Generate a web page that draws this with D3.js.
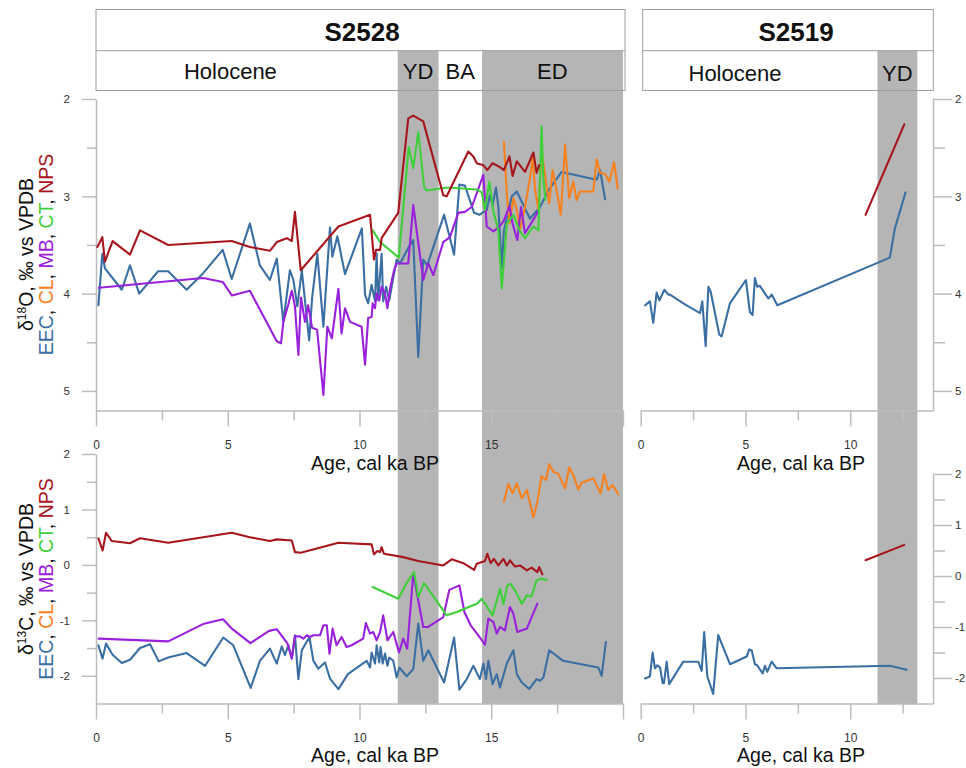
<!DOCTYPE html>
<html>
<head>
<meta charset="utf-8">
<script src="https://cdn.jsdelivr.net/npm/d3@7"></script>
<style>
  html, body { margin: 0; padding: 0; background: #fff; overflow: hidden; }
  text { font-family: 'Liberation Sans', Arial, Helvetica, sans-serif; }
</style>
</head>
<body>
<svg id="chart" width="966" height="768"></svg>
<script>
// ---------- cores and periods ----------
const cores = ["S2528", "S2519"];
const periodsS2528 = [
  { name: "YD", from: 11.45, to: 13.0 },
  { name: "ED", from: 14.65, to: 20.0 }
];
const periodsS2519 = [
  { name: "YD", from: 11.3, to: 13.2 }
];
// header labels: [text, age of label centre]
const headerS2528 = [["Holocene", 5.1], ["YD", 12.22], ["BA", 13.82], ["ED", 17.32]];
const headerS2519 = [["Holocene", 4.5], ["YD", 12.25]];

// ---------- axis ticks ----------
const ageTicksS2528 = [0, 2.5, 5, 7.5, 10, 12.5, 15, 17.5, 20];
const ageLabelsS2528 = [0, 5, 10, 15];
const ageTicksS2519 = [0, 2.5, 5, 7.5, 10, 12.5];
const ageLabelsS2519 = [0, 5, 10];
const d18OTicks = [2, 2.5, 3, 3.5, 4, 4.5, 5];
const d18OLabels = [2, 3, 4, 5];
const d13CTicks = [2, 1.5, 1, 0.5, 0, -0.5, -1, -1.5, -2];
const d13CLabels = [2, 1, 0, -1, -2];

// ---------- S2528, δ18O  [age ka, ‰] ----------
const s2528_O_EEC = [[0.09,4.12],[0.24,3.59],[0.34,3.74],[0.98,3.96],[1.29,3.71],[1.64,4.00],[2.36,3.77],[2.74,3.77],[3.44,3.96],[4.07,3.79],[4.81,3.55],[5.15,3.85],[5.84,3.28],[6.22,3.71],[6.60,3.86],[6.86,3.64],[7.11,4.29],[7.36,3.76],[7.49,3.86],[7.64,4.13],[7.81,3.76],[8.09,4.48],[8.20,4.05],[8.40,3.59],[8.63,4.34],[8.88,3.32],[8.97,3.62],[9.16,3.41],[9.45,3.80],[10.09,3.33],[10.21,4.01],[10.33,4.10],[10.46,3.91],[10.59,4.08],[10.65,3.59],[10.71,4.07],[10.84,3.59],[10.90,4.08],[11.01,3.93],[11.13,4.07],[11.22,3.93],[11.41,3.65],[11.54,3.69],[11.85,3.53],[12.04,3.45],[12.23,4.65],[12.42,3.65],[12.57,3.71],[13.21,3.19],[13.59,3.60],[13.79,2.88],[14.00,2.89],[14.35,3.17],[14.55,3.19],[14.83,3.14],[14.95,2.99],[15.05,3.09],[15.18,2.91],[15.27,3.11],[15.40,3.74],[15.48,3.35],[15.78,3.00],[15.97,2.95],[16.47,3.23],[16.85,3.11],[17.17,2.94],[17.67,2.75],[19.00,2.83],[19.13,2.73],[19.32,3.03]];
const s2528_O_CL = [[15.48,2.44],[15.59,2.97],[15.69,3.28],[15.84,3.02],[15.97,3.14],[16.09,3.35],[16.28,3.11],[16.47,2.81],[16.57,2.61],[16.66,2.92],[16.79,3.14],[16.91,2.52],[17.10,2.90],[17.20,3.07],[17.33,2.73],[17.48,2.94],[17.64,3.19],[17.80,2.47],[17.96,3.02],[18.11,2.85],[18.24,3.04],[18.37,2.95],[18.87,2.95],[19.00,2.62],[19.13,2.76],[19.32,2.77],[19.48,2.85],[19.66,2.65],[19.80,2.92]];
const s2528_O_MB = [[0.11,3.94],[4.07,3.84],[4.81,3.88],[5.16,4.02],[5.84,3.97],[6.86,4.49],[7.02,4.51],[7.11,4.29],[7.30,4.11],[7.43,3.97],[7.55,4.13],[7.68,4.63],[7.78,4.04],[7.93,4.29],[8.05,4.12],[8.20,4.35],[8.39,4.37],[8.63,5.04],[8.78,4.34],[8.95,4.46],[9.20,3.95],[9.32,4.41],[9.45,4.15],[9.64,4.29],[10.08,4.34],[10.21,4.73],[10.33,4.25],[10.46,4.24],[10.50,4.10],[10.59,4.15],[10.65,4.00],[10.75,4.07],[10.84,3.93],[10.97,4.00],[11.06,4.15],[11.16,3.95],[11.31,3.76],[11.41,3.69],[11.66,3.69],[11.85,3.69],[12.04,3.09],[12.42,3.86],[12.61,3.69],[12.80,3.81],[13.18,3.47],[13.43,3.42],[13.75,3.17],[14.00,3.16],[14.26,3.11],[14.70,2.78],[14.83,3.31],[15.08,3.36],[15.27,3.32],[15.46,3.26],[15.69,3.10],[15.81,3.28],[15.99,3.45],[16.13,3.11],[16.28,3.38],[16.60,3.24],[16.77,3.16]];
const s2528_O_CT = [[10.50,3.35],[10.78,3.47],[11.49,3.63],[11.87,2.49],[12.04,2.71],[12.23,2.34],[12.45,2.90],[12.55,2.94],[13.05,2.92],[13.36,2.91],[14.45,2.93],[14.64,2.96],[14.76,3.14],[14.93,2.85],[15.07,3.14],[15.27,3.35],[15.40,3.95],[15.59,3.28],[15.84,3.19],[16.09,3.36],[16.28,3.43],[16.60,3.31],[16.79,3.35],[16.91,2.28],[16.98,2.83],[17.06,3.04]];
const s2528_O_NPS = [[0.05,3.52],[0.24,3.42],[0.34,3.67],[0.63,3.46],[1.29,3.60],[1.67,3.35],[2.74,3.50],[5.15,3.46],[5.84,3.52],[6.60,3.56],[6.86,3.47],[7.24,3.43],[7.43,3.46],[7.55,3.16],[7.77,3.76],[9.20,3.31],[10.40,3.19],[10.55,3.65],[10.63,3.55],[10.78,3.55],[10.84,3.43],[11.47,3.17],[11.85,2.20],[12.04,2.17],[12.42,2.23],[13.18,2.99],[13.31,3.00],[14.13,2.54],[14.32,2.59],[14.45,2.66],[14.70,2.68],[14.85,2.73],[15.05,2.66],[15.33,2.70],[15.48,2.73],[15.69,2.59],[15.81,2.79],[15.97,2.64],[16.28,2.75],[16.60,2.55],[16.72,2.76],[16.82,2.68]];

// ---------- S2528, δ13C ----------
const s2528_C_EEC = [[0.09,-1.45],[0.25,-1.69],[0.38,-1.42],[0.63,-1.62],[0.98,-1.77],[1.29,-1.71],[1.67,-1.50],[2.05,-1.43],[2.38,-1.74],[2.74,-1.67],[3.44,-1.59],[4.14,-1.82],[4.83,-1.31],[5.21,-1.45],[5.87,-2.22],[6.22,-1.73],[6.60,-1.51],[6.86,-1.78],[7.05,-1.47],[7.17,-1.63],[7.30,-1.45],[7.43,-1.69],[7.55,-1.27],[7.68,-2.06],[7.81,-1.54],[8.10,-1.30],[8.25,-1.73],[8.44,-1.87],[8.69,-1.76],[8.88,-2.05],[9.20,-2.24],[9.56,-1.97],[10.27,-1.73],[10.40,-1.85],[10.46,-1.58],[10.59,-1.78],[10.65,-1.45],[10.75,-1.76],[10.80,-1.48],[10.88,-1.78],[10.97,-1.60],[11.06,-1.82],[11.13,-1.67],[11.28,-1.73],[11.41,-2.03],[11.51,-1.85],[11.79,-2.01],[12.04,-1.88],[12.23,-1.06],[12.42,-1.73],[12.61,-1.54],[13.21,-2.12],[13.59,-1.31],[13.79,-2.25],[14.07,-2.06],[14.32,-1.82],[14.57,-2.06],[14.70,-1.78],[14.80,-2.06],[14.89,-1.73],[15.05,-2.15],[15.21,-1.97],[15.33,-2.21],[15.59,-1.78],[15.84,-1.54],[15.97,-1.97],[16.16,-2.12],[16.44,-2.24],[16.72,-2.06],[16.85,-2.09],[16.98,-2.03],[17.20,-1.54],[17.73,-1.73],[19.06,-1.85],[19.19,-2.00],[19.35,-1.39]];
const s2528_C_CL = [[15.48,1.14],[15.65,1.46],[15.81,1.29],[15.97,1.47],[16.16,1.20],[16.35,1.35],[16.60,0.86],[16.75,1.14],[16.91,1.60],[17.08,1.53],[17.20,1.82],[17.35,1.68],[17.54,1.65],[17.80,1.38],[17.96,1.76],[18.14,1.59],[18.30,1.36],[18.43,1.48],[18.87,1.56],[19.15,1.29],[19.28,1.64],[19.44,1.35],[19.61,1.44],[19.82,1.27]];
const s2528_C_MB = [[0.10,-1.33],[2.74,-1.38],[4.10,-1.06],[4.82,-0.98],[5.18,-1.16],[5.86,-1.41],[6.57,-1.19],[6.86,-1.16],[7.27,-1.42],[7.43,-1.69],[7.55,-1.29],[7.74,-1.29],[7.87,-1.33],[8.00,-1.27],[8.12,-1.30],[8.25,-1.27],[8.50,-1.27],[8.63,-1.09],[8.76,-1.09],[8.86,-1.60],[8.98,-1.15],[9.13,-1.45],[9.32,-1.30],[9.51,-1.48],[9.70,-1.45],[10.14,-1.33],[10.24,-1.05],[10.40,-1.24],[10.52,-1.21],[10.65,-1.36],[10.78,-1.21],[10.90,-0.91],[11.06,-1.36],[11.28,-1.21],[11.50,-1.58],[11.66,-1.33],[11.81,-1.51],[12.04,-0.16],[12.42,-1.12],[12.61,-1.12],[13.18,-0.94],[13.41,-0.45],[13.79,-0.37],[13.98,-0.85],[14.22,-1.09],[14.51,-1.27],[14.76,-1.44],[14.89,-0.97],[15.08,-1.03],[15.21,-1.24],[15.33,-1.12],[15.52,-1.18],[15.71,-0.76],[15.84,-0.88],[15.99,-1.21],[16.22,-1.17],[16.35,-1.15],[16.75,-0.70]];
const s2528_C_CT = [[10.50,-0.40],[11.47,-0.61],[11.81,-0.31],[12.07,-0.13],[12.23,-0.58],[12.45,-0.33],[13.31,-0.91],[13.69,-0.85],[14.45,-0.70],[14.64,-0.61],[15.05,-0.91],[15.23,-0.61],[15.33,-0.43],[15.46,-0.71],[15.61,-0.37],[15.74,-0.34],[15.90,-0.46],[16.16,-0.70],[16.35,-0.55],[16.53,-0.57],[16.72,-0.28],[16.88,-0.25],[17.10,-0.27]];
const s2528_C_NPS = [[0.09,0.48],[0.25,0.26],[0.38,0.58],[0.60,0.43],[1.29,0.39],[1.67,0.48],[2.74,0.40],[5.15,0.58],[5.84,0.50],[6.60,0.43],[6.86,0.46],[7.43,0.44],[7.55,0.23],[7.77,0.22],[9.20,0.40],[10.46,0.37],[10.55,0.19],[10.68,0.25],[10.78,0.23],[10.84,0.32],[10.93,0.20],[11.66,0.14],[12.23,0.07],[13.18,-0.01],[13.50,0.10],[13.94,0.03],[14.35,-0.09],[14.45,0.02],[14.76,0.07],[14.85,0.20],[14.98,0.03],[15.10,0.11],[15.27,-0.01],[15.46,0.11],[15.59,-0.01],[15.71,0.08],[15.90,-0.03],[16.09,-0.01],[16.35,-0.10],[16.53,-0.05],[16.75,-0.13],[16.82,-0.04],[16.94,-0.17]];

// ---------- S2519 ----------
const s2519_O_EEC = [[0.21,4.12],[0.44,4.08],[0.60,4.30],[0.76,3.99],[0.89,4.07],[1.13,3.96],[1.32,4.01],[1.40,4.01],[2.11,4.11],[2.83,4.20],[2.94,4.08],[3.10,4.54],[3.23,3.93],[3.34,3.98],[3.75,4.42],[3.86,4.44],[4.26,4.10],[5.02,3.86],[5.21,4.19],[5.34,4.22],[5.45,3.84],[5.56,3.93],[5.69,3.92],[5.93,4.00],[6.09,4.05],[6.25,4.01],[6.52,4.12],[11.89,3.63],[12.13,3.33],[12.64,2.96]];
const s2519_O_NPS = [[10.73,3.19],[12.58,2.26]];
const s2519_C_EEC = [[0.21,-2.01],[0.44,-1.97],[0.57,-1.50],[0.68,-1.81],[0.79,-1.75],[0.92,-1.79],[1.05,-2.10],[1.11,-2.10],[1.24,-1.68],[1.36,-2.12],[2.03,-1.68],[2.75,-1.68],[2.91,-1.86],[3.03,-1.10],[3.18,-1.97],[3.46,-2.31],[3.70,-1.16],[4.26,-1.73],[5.06,-1.58],[5.18,-1.44],[5.30,-1.46],[5.45,-1.73],[5.56,-1.75],[5.82,-1.91],[5.93,-1.76],[6.04,-1.88],[6.25,-1.68],[6.49,-1.81],[11.89,-1.76],[12.69,-1.84]];
const s2519_C_NPS = [[10.73,0.31],[12.58,0.61]];

// ---------- styling ----------
const COL = { EEC: "#3b6fa3", CL: "#f7801f", MB: "#9a21dc", CT: "#3fcf3a", NPS: "#a6161c" };
const AXIS = "#bdbdbd";
const SHADE = "#b5b5b5";
const TXT = "#111";

const svg = d3.select("#chart");

// ---------- scales ----------
const xL = d3.scaleLinear().domain([0, 20]).range([96, 623]);
const xR = d3.scaleLinear().domain([0, 13.95]).range([640.7, 933]);
const yOL = d3.scaleLinear().domain([2, 5.2]).range([99, 410.4]);
const yOR = d3.scaleLinear().domain([2, 5.2]).range([99, 410.4]);
const yCL = d3.scaleLinear().domain([2, -2.5]).range([454, 703.5]);
const yCR = d3.scaleLinear().domain([2, -2.5]).range([474, 703.5]);

// ---------- header boxes ----------
function headerBox(x0, x1) {
  svg.append("rect").attr("x", x0).attr("y", 9.5).attr("width", x1 - x0).attr("height", 81)
    .attr("fill", "#fff").attr("stroke", "none");
}
headerBox(96, 625);
headerBox(642.7, 933.3);

// ---------- period shading ----------
function shade(periods, x) {
  svg.append("g").selectAll("rect").data(periods).join("rect")
    .attr("x", d => x(d.from)).attr("width", d => x(d.to) - x(d.from))
    .attr("y", 50.7).attr("height", 704 - 50.7)
    .attr("fill", SHADE);
}
shade(periodsS2528, xL);
shade(periodsS2519, xR);

// header borders on top of shading
function headerBorders(x0, x1) {
  const g = svg.append("g").attr("fill", "none").attr("stroke", "#9e9e9e").attr("stroke-width", 1);
  g.append("rect").attr("x", x0).attr("y", 9.5).attr("width", x1 - x0).attr("height", 81);
  g.append("line").attr("x1", x0).attr("x2", x1).attr("y1", 50.7).attr("y2", 50.7);
}
headerBorders(96, 625);
headerBorders(642.7, 933.3);

// header texts
svg.append("text").text(cores[0]).attr("x", 362).attr("y", 40.5)
  .attr("text-anchor", "middle").attr("font-size", 26).attr("font-weight", "bold").attr("fill", TXT);
svg.append("text").text(cores[1]).attr("x", 796).attr("y", 40.5)
  .attr("text-anchor", "middle").attr("font-size", 26).attr("font-weight", "bold").attr("fill", TXT);
svg.append("g").selectAll("text").data(headerS2528).join("text")
  .text(d => d[0]).attr("x", d => xL(d[1])).attr("y", 78.5)
  .attr("text-anchor", "middle").attr("font-size", 22).attr("fill", TXT);
svg.append("g").selectAll("text").data(headerS2519).join("text")
  .text(d => d[0]).attr("x", d => xR(d[1])).attr("y", 81)
  .attr("text-anchor", "middle").attr("font-size", 22).attr("fill", TXT);

// ---------- axes ----------
function styleAxis(g) {
  g.select(".domain").attr("stroke", AXIS).attr("stroke-width", 1.5);
  g.selectAll(".tick line").attr("stroke", AXIS).attr("stroke-width", 1.5);
  g.selectAll(".tick text").attr("fill", "#333").attr("font-size", 12)
    .attr("font-family", "'Liberation Sans', Arial, sans-serif");
}
function yAxis(xPos, scale, orient, ticks, labels) {
  const left = orient === "left";
  const ax = (left ? d3.axisLeft(scale) : d3.axisRight(scale))
    .tickValues(ticks).tickSizeOuter(0)
    .tickFormat(d => labels.includes(d) ? String(d) : "");
  const g = svg.append("g").attr("transform", `translate(${xPos},0)`).call(ax);
  styleAxis(g);
  const s = left ? -1 : 1;
  g.selectAll(".tick line").attr("x2", d => s * (labels.includes(d) ? (left ? 14 : 19) : (left ? 9 : 12)));
  g.selectAll(".tick text").attr("x", s * (left ? 26 : 22)).attr("font-size", 11.5);
}
function xAxis(yPos, scale, ticks, labels) {
  const ax = d3.axisBottom(scale).tickValues(ticks).tickSizeOuter(0)
    .tickFormat(d => labels.includes(d) ? String(d) : "");
  const g = svg.append("g").attr("transform", `translate(0,${yPos})`).call(ax);
  styleAxis(g);
  g.selectAll(".tick line").attr("y2", d => (d % 5 === 0 ? 16 : 10));
  g.selectAll(".tick text").attr("y", 30);
}
yAxis(96, yOL, "left", d18OTicks, d18OLabels);
yAxis(96, yCL, "left", d13CTicks, d13CLabels);
yAxis(933, yOR, "right", d18OTicks, d18OLabels);
yAxis(933, yCR, "right", d13CTicks, d13CLabels);
xAxis(410.4, xL, ageTicksS2528, ageLabelsS2528);
xAxis(703.5, xL, ageTicksS2528, ageLabelsS2528);
xAxis(410.4, xR, ageTicksS2519, ageLabelsS2519);
xAxis(703.5, xR, ageTicksS2519, ageLabelsS2519);

// axis titles
[[375, 469.5], [375, 761.5], [801, 469.5], [801, 761.5]].forEach(p => {
  svg.append("text").text("Age, cal ka BP").attr("x", p[0]).attr("y", p[1])
    .attr("text-anchor", "middle").attr("font-size", 19.5).attr("fill", TXT);
});

function yTitle(cy, iso, mass) {
  const t1 = svg.append("text").attr("transform", `translate(33,${cy}) rotate(-90)`)
    .attr("text-anchor", "middle").attr("font-size", 19.5).attr("fill", TXT);
  t1.append("tspan").text("δ");
  t1.append("tspan").text(mass).attr("font-size", 12).attr("dy", -7);
  t1.append("tspan").text(iso + ", ‰ vs VPDB").attr("dy", 7);
  const t2 = svg.append("text").attr("transform", `translate(53,${cy}) rotate(-90)`)
    .attr("text-anchor", "middle").attr("font-size", 19.5).attr("fill", TXT);
  const parts = [["EEC", COL.EEC], [", ", TXT], ["CL", COL.CL], [", ", TXT], ["MB", COL.MB],
                 [", ", TXT], ["CT", COL.CT], [", ", TXT], ["NPS", COL.NPS]];
  parts.forEach(p => t2.append("tspan").text(p[0]).attr("fill", p[1]).style("white-space", "pre"));
}
yTitle(254.5, "O", "18");
yTitle(579, "C", "13");

// ---------- series ----------
function series(data, x, y, color) {
  svg.append("path").datum(data)
    .attr("d", d3.line().x(d => x(d[0])).y(d => y(d[1])))
    .attr("fill", "none").attr("stroke", color).attr("stroke-width", 2.1)
    .attr("stroke-linejoin", "round").attr("stroke-linecap", "round");
}
series(s2528_O_EEC, xL, yOL, COL.EEC);
series(s2528_O_CL, xL, yOL, COL.CL);
series(s2528_O_MB, xL, yOL, COL.MB);
series(s2528_O_CT, xL, yOL, COL.CT);
series(s2528_O_NPS, xL, yOL, COL.NPS);

series(s2528_C_EEC, xL, yCL, COL.EEC);
series(s2528_C_CL, xL, yCL, COL.CL);
series(s2528_C_MB, xL, yCL, COL.MB);
series(s2528_C_CT, xL, yCL, COL.CT);
series(s2528_C_NPS, xL, yCL, COL.NPS);

series(s2519_O_EEC, xR, yOR, COL.EEC);
series(s2519_O_NPS, xR, yOR, COL.NPS);
series(s2519_C_EEC, xR, yCR, COL.EEC);
series(s2519_C_NPS, xR, yCR, COL.NPS);
</script>
</body>
</html>
